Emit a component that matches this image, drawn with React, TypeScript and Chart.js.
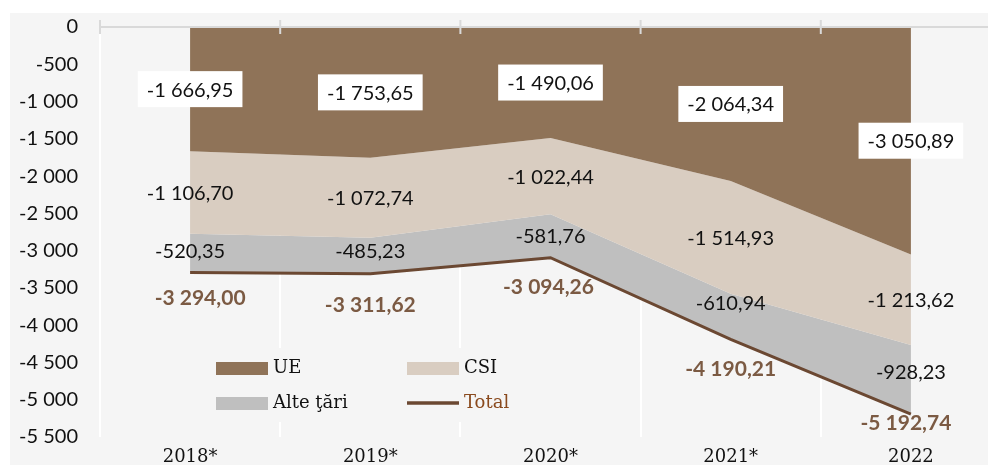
import React, { useEffect, useRef } from "react";
import { Chart, registerables } from "chart.js";

Chart.register(...registerables);

const categories = ["2018*", "2019*", "2020*", "2021*", "2022"];
const ue = [-1666.95, -1753.65, -1490.06, -2064.34, -3050.89];
const csi = [-1106.7, -1072.74, -1022.44, -1514.93, -1213.62];
const alte = [-520.35, -485.23, -581.76, -610.94, -928.23];
const total = [-3294.0, -3311.62, -3094.26, -4190.21, -5192.74];
const legendLabels = ["UE", "CSI", "Alte ţări", "Total"];

const C_UE = "#8F7358";
const C_CSI = "#D9CDC1";
const C_ALTE = "#BFBFBF";
const C_TOTAL = "#6B4832";
const C_TOTAL_TXT = "#7B5A43";
const C_LEG_TOTAL = "#8A4A1E";

// label nudges (pixels) for readability, as in the original
const totalDx = [10, 0, -2, 0, -5];
const totalDy = [26, 31, 30, 30, 9];
const alteDy = [-2, -4, 1, -13, -7];

function fmt(v: number, decimals: number): string {
  const neg = v < 0;
  const fixed = Math.abs(v).toFixed(decimals);
  const [int, dec] = fixed.split(".");
  const intS = int.replace(/\B(?=(\d{3})+(?!\d))/g, " ");
  return (neg ? "-" : "") + intS + (dec ? "," + dec : "");
}

const SANS = "Lato, 'Noto Sans', sans-serif";
const SERIF = "'DejaVu Serif', serif";

const decorPlugin = {
  id: "decor",
  beforeDraw(chart: any) {
    const { ctx, width, height } = chart;
    ctx.save();
    ctx.fillStyle = "#ffffff";
    ctx.fillRect(0, 0, width, height);
    ctx.fillStyle = "#F5F5F5";
    ctx.fillRect(10, 13, width - 10, height - 13);
    ctx.restore();
  },
  afterDatasetsDraw(chart: any) {
    const { ctx, chartArea } = chart;
    const xs = chart.scales.x;
    const ys = chart.scales.y;
    const y0 = ys.getPixelForValue(0);
    ctx.save();
    // top axis line with crossing ticks
    ctx.strokeStyle = "#D9D9D9";
    ctx.lineWidth = 2;
    ctx.beginPath();
    ctx.moveTo(chartArea.left, y0);
    ctx.lineTo(chartArea.right, y0);
    const step = (chartArea.right - chartArea.left) / categories.length;
    for (let i = 0; i <= categories.length; i++) {
      const bx = chartArea.left + step * i;
      ctx.moveTo(bx, y0 - 7);
      ctx.lineTo(bx, y0 + 7);
    }
    ctx.stroke();

    // legend box
    ctx.fillStyle = "#F5F5F5";
    ctx.fillRect(205, 348, 325, 74);
    ctx.font = "18px " + SERIF;
    ctx.textBaseline = "middle";
    ctx.textAlign = "left";
    const rows = [368.5, 403.5];
    const cols = [216, 407];
    const colors = [C_UE, C_CSI, C_ALTE];
    for (let k = 0; k < 4; k++) {
      const cx = cols[k % 2];
      const cy = rows[Math.floor(k / 2)];
      if (k < 3) {
        ctx.fillStyle = colors[k];
        ctx.fillRect(cx, cy - 6.5, 52, 13);
      } else {
        ctx.strokeStyle = C_TOTAL;
        ctx.lineWidth = 3.5;
        ctx.beginPath();
        ctx.moveTo(cx, cy - 0.5);
        ctx.lineTo(cx + 52, cy - 0.5);
        ctx.stroke();
      }
      ctx.fillStyle = k === 3 ? C_LEG_TOTAL : "#111111";
      ctx.fillText(legendLabels[k], cx + 57, cy);
    }

    // value labels
    for (let i = 0; i < categories.length; i++) {
      const px = xs.getPixelForValue(i);
      const yUE = ys.getPixelForValue(ue[i]);
      const yCSI = ys.getPixelForValue(ue[i] + csi[i]);
      const yAl = ys.getPixelForValue(ue[i] + csi[i] + alte[i]);
      ctx.font = "20px " + SANS;
      ctx.textAlign = "center";
      ctx.textBaseline = "middle";
      // UE with white box
      const tUE = fmt(ue[i], 2);
      const w = ctx.measureText(tUE).width + 18;
      const cy = (y0 + yUE) / 2;
      ctx.fillStyle = "#ffffff";
      ctx.fillRect(px - w / 2, cy - 18, w, 36);
      ctx.fillStyle = "#111111";
      ctx.fillText(tUE, px, cy + 1);
      // CSI
      ctx.fillText(fmt(csi[i], 2), px, (yUE + yCSI) / 2 + 1);
      // Alte
      ctx.fillText(fmt(alte[i], 2), px, (yCSI + yAl) / 2 + alteDy[i]);
      // Total
      const pt = ys.getPixelForValue(total[i]);
      ctx.font = "bold 21px " + SANS;
      ctx.fillStyle = C_TOTAL_TXT;
      ctx.fillText(fmt(total[i], 2), px + totalDx[i], pt + totalDy[i]);
    }
    ctx.restore();
  },
};

export default function App() {
  const ref = useRef<HTMLCanvasElement | null>(null);
  useEffect(() => {
    if (!ref.current) return;
    const chart = new Chart(ref.current, {
      type: "line",
      data: {
        labels: categories,
        datasets: [
          {
            label: "Total",
            data: total,
            stack: "total",
            borderColor: C_TOTAL,
            borderWidth: 3,
            pointRadius: 0,
            fill: false,
            tension: 0,
          } as any,
          {
            label: "UE",
            data: ue,
            stack: "trade",
            backgroundColor: C_UE,
            borderColor: "rgba(0,0,0,0)",
            borderWidth: 0,
            pointRadius: 0,
            fill: "origin",
          },
          {
            label: "CSI",
            data: csi,
            stack: "trade",
            backgroundColor: C_CSI,
            borderColor: "rgba(0,0,0,0)",
            borderWidth: 0,
            pointRadius: 0,
            fill: "-1",
          },
          {
            label: "Alte ţări",
            data: alte,
            stack: "trade",
            backgroundColor: C_ALTE,
            borderColor: "rgba(0,0,0,0)",
            borderWidth: 0,
            pointRadius: 0,
            fill: "-1",
          },
        ],
      },
      options: {
        responsive: false,
        animation: false,
        layout: { padding: { top: 27, right: 9, left: 0, bottom: 0 } },
        plugins: {
          legend: { display: false },
          tooltip: { enabled: false },
        },
        scales: {
          x: {
            type: "category",
            offset: true,
            grid: { offset: true, color: "#ffffff", lineWidth: 2, drawTicks: false },
            border: { display: false },
            ticks: { font: { family: SERIF, size: 18 }, color: "#111111", padding: 10, maxRotation: 0 },
            afterFit: (s: any) => {
              s.height = 28;
              s.paddingLeft = 0;
              s.paddingRight = 0;
            },
          },
          y: {
            stacked: true,
            min: -5500,
            max: 0,
            grid: { display: false, drawTicks: false },
            border: { display: false },
            ticks: {
              stepSize: 500,
              padding: 22,
              color: "#111111",
              font: { family: SANS, size: 20 },
              callback: (v: any) => fmt(Number(v), 0),
            },
            afterFit: (s: any) => {
              s.width = 100;
              s.paddingTop = 0;
              s.paddingBottom = 0;
            },
          },
        },
      },
      plugins: [decorPlugin],
    });
    return () => chart.destroy();
  }, []);
  return (
    <div style={{ position: "absolute", left: 0, top: 0, width: 988, height: 465, overflow: "hidden" }}>
      <canvas ref={ref} width={1010} height={465} style={{ display: "block" }} />
    </div>
  );
}
